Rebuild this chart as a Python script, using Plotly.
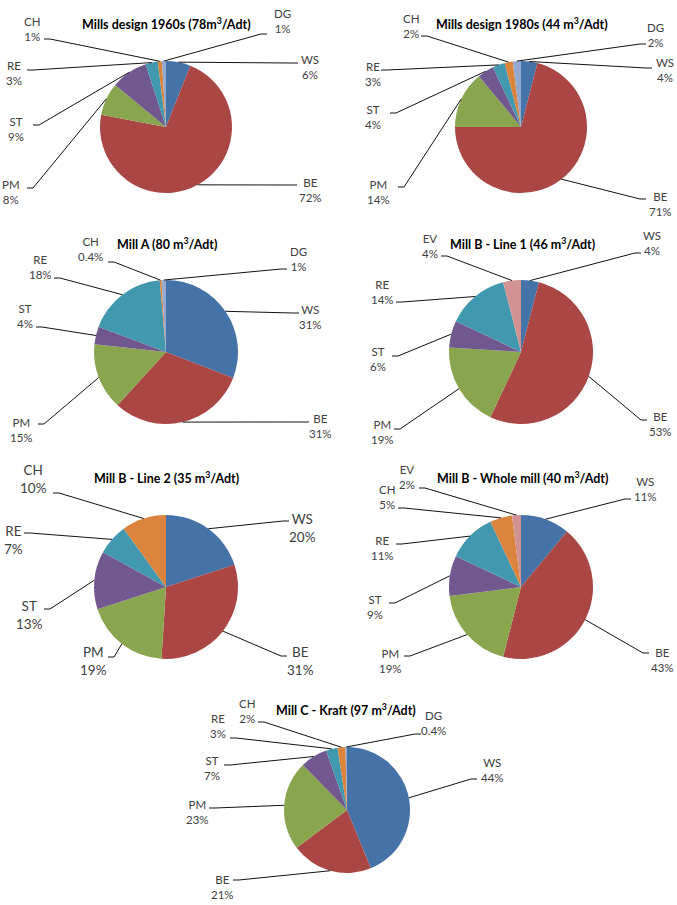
import math
import plotly.graph_objects as go

W, H = 677, 905

# ---------------- data ----------------
titles = [
    "Mills design 1960s (78m<sup>3</sup>/Adt)",
    "Mills design 1980s (44 m<sup>3</sup>/Adt)",
    "Mill A (80 m<sup>3</sup>/Adt)",
    "Mill B - Line 1 (46 m<sup>3</sup>/Adt)",
    "Mill B - Line 2 (35 m<sup>3</sup>/Adt)",
    "Mill B - Whole mill (40 m<sup>3</sup>/Adt)",
    "Mill C - Kraft (97 m<sup>3</sup>/Adt)",
]

labels_1960 = ["WS", "BE", "PM", "ST", "RE", "CH", "DG"]
values_1960 = [6, 72, 8, 9, 3, 1, 1]

labels_1980 = ["WS", "BE", "PM", "ST", "RE", "CH", "DG"]
values_1980 = [4, 71, 14, 4, 3, 2, 2]

labels_millA = ["WS", "BE", "PM", "ST", "RE", "CH", "DG"]
values_millA = [31, 31, 15, 4, 18, 0.4, 1]

labels_millB1 = ["WS", "BE", "PM", "ST", "RE", "EV"]
values_millB1 = [4, 53, 19, 6, 14, 4]

labels_millB2 = ["WS", "BE", "PM", "ST", "RE", "CH"]
values_millB2 = [20, 31, 19, 13, 7, 10]

labels_millBW = ["WS", "BE", "PM", "ST", "RE", "CH", "EV"]
values_millBW = [11, 43, 19, 9, 11, 5, 2]

labels_millC = ["WS", "BE", "PM", "ST", "RE", "CH", "DG"]
values_millC = [44, 21, 23, 7, 3, 2, 0.4]

all_labels = [labels_1960, labels_1980, labels_millA, labels_millB1,
              labels_millB2, labels_millBW, labels_millC]
all_values = [values_1960, values_1980, values_millA, values_millB1,
              values_millB2, values_millBW, values_millC]

# ---------------- styling / layout ----------------
COLORS = {"WS": "#4572A7", "BE": "#AA4643", "PM": "#89A54E", "ST": "#71588F",
          "RE": "#4198AF", "CH": "#DB843D", "DG": "#93A9CF", "EV": "#D19392"}

FONT = "Lato, Carlito, Calibri, 'Open Sans', sans-serif"

# per chart: centre (px), radius (px), title position (px), label font size,
# and label placement: name -> (text centre x, y, leader attach x, y)
layouts = [
    dict(c=(166, 127), r=66, t=(166, 23), fs=11.5, lab={
        "WS": (310, 67, 298, 63), "BE": (310, 190, 297, 185),
        "PM": (11, 192, 27, 188), "ST": (16, 129, 33, 125),
        "RE": (14, 73, 27, 70), "CH": (32, 29, 44, 39),
        "DG": (282, 21, 267, 34)}),
    dict(c=(521, 127), r=66, t=(522, 23), fs=11.5, lab={
        "WS": (665, 70, 652, 68), "BE": (660, 204, 646, 199),
        "PM": (378, 192, 398, 187), "ST": (373, 117, 390, 113),
        "RE": (373, 74, 381, 70), "CH": (411, 26, 421, 36),
        "DG": (655, 35, 646, 44)}),
    dict(c=(166, 352), r=72, t=(167, 243), fs=11.5, lab={
        "WS": (310, 317, 299, 313), "BE": (320, 426, 309, 422),
        "PM": (22, 430, 38, 424), "ST": (25, 316, 36, 327),
        "RE": (40, 267, 54, 278), "CH": (90, 249, 108, 262),
        "DG": (298, 259, 287, 269)}),
    dict(c=(521, 352), r=72, t=(522, 243), fs=11.5, lab={
        "WS": (652, 243, 641, 253), "BE": (660, 424, 647, 420),
        "PM": (382, 432, 394, 429), "ST": (378, 359, 392, 356),
        "RE": (382, 292, 396, 302), "EV": (430, 246, 441, 256)}),
    dict(c=(166, 587), r=72, t=(166, 477), fs=13.5, lab={
        "WS": (302, 528, 289, 521), "BE": (300, 661, 287, 656),
        "PM": (93, 661, 108, 657), "ST": (29, 615, 44, 609),
        "RE": (13, 540, 24, 533), "CH": (33, 479, 53, 493)}),
    dict(c=(521, 587), r=72, t=(522, 477), fs=11.5, lab={
        "WS": (645, 489, 631, 499), "BE": (662, 660, 649, 653),
        "PM": (390, 661, 404, 656), "ST": (375, 607, 389, 603),
        "RE": (382, 548, 396, 544), "CH": (387, 497, 398, 508),
        "EV": (407, 477, 419, 488)}),
    dict(c=(347, 810), r=63, t=(346, 709), fs=11.5, lab={
        "WS": (492, 770, 477, 779), "BE": (222, 887, 233, 880),
        "PM": (198, 812, 209, 808), "ST": (212, 768, 224, 765),
        "RE": (218, 726, 230, 738), "CH": (247, 711, 258, 722),
        "DG": (433, 723, 421, 734)}),
]


def px(x):
    return x / W


def py(y):
    return 1 - y / H


fig = go.Figure()
annotations = []
shapes = []

for title, labels, values, lay in zip(titles, all_labels, all_values, layouts):
    cx, cy = lay["c"]
    r = lay["r"]
    fig.add_trace(go.Pie(
        labels=labels, values=values, sort=False, direction="clockwise",
        rotation=0, textinfo="none", showlegend=False,
        marker=dict(colors=[COLORS[l] for l in labels], line=dict(width=0)),
        domain=dict(x=[px(cx - r), px(cx + r)], y=[py(cy + r), py(cy - r)]),
        hovertemplate="%{label}: %{value}%<extra></extra>",
    ))
    annotations.append(dict(
        text="<b>" + title + "</b>", x=px(lay["t"][0]), y=py(lay["t"][1]),
        xref="paper", yref="paper", xanchor="center", yanchor="middle",
        showarrow=False, font=dict(family=FONT, size=12.5, color="#000000")))

    total = sum(values)
    cum = 0.0
    for lab, v in zip(labels, values):
        mid = (cum + v / 2) / total * 2 * math.pi
        cum += v
        ex = cx + r * math.sin(mid)
        ey = cy - r * math.cos(mid)
        tx, ty, ax, ay = lay["lab"][lab]
        side = 1 if tx > cx else -1
        sx = ax - side * 6
        path = (f"M {px(ex)} {py(ey)} L {px(sx)} {py(ay)} "
                f"L {px(ax)} {py(ay)}")
        shapes.append(dict(type="path", path=path, xref="paper",
                           yref="paper", line=dict(color="#111111", width=1)))
        annotations.append(dict(
            text=f"{lab}<br>{v:g}%", x=px(tx), y=py(ty), xref="paper",
            yref="paper", xanchor="center", yanchor="middle", align="center",
            showarrow=False,
            font=dict(family=FONT, size=lay["fs"], color="#404040")))

fig.update_layout(
    width=W, height=H, autosize=False,
    margin=dict(l=0, r=0, t=0, b=0),
    paper_bgcolor="#FFFFFF", plot_bgcolor="#FFFFFF",
    annotations=annotations, shapes=shapes,
)

fig.write_html("out.html")
